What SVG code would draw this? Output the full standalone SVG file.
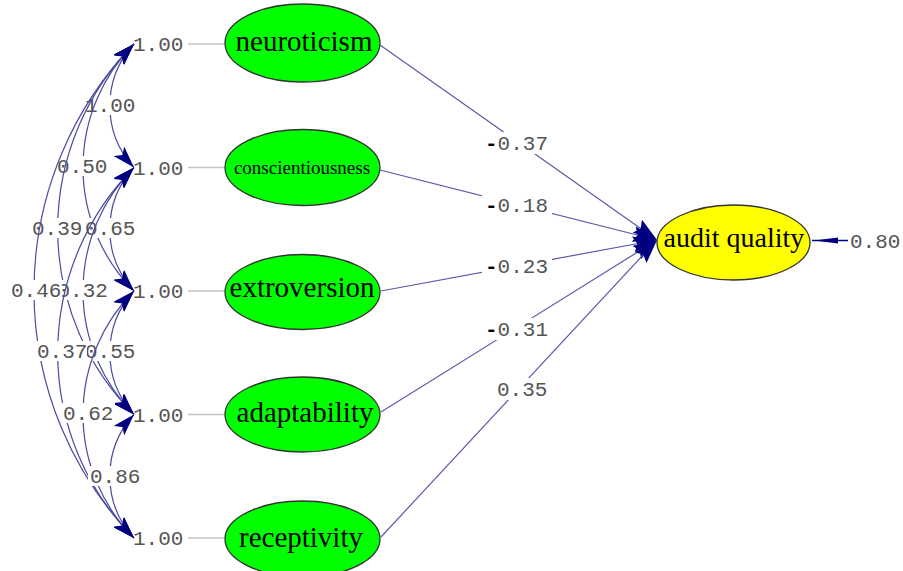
<svg xmlns="http://www.w3.org/2000/svg" width="903" height="571" viewBox="0 0 903 571">
<style>
.node{fill:#00ff00;stroke:#333;stroke-width:1.3}
.dep{fill:#ffff00;stroke:#333;stroke-width:1.3}
.nt{font-family:"Liberation Serif","Times New Roman",serif;font-size:29px;fill:#000;text-anchor:middle}
.num{font-family:"Liberation Mono","Courier New",monospace;font-size:21px;fill:#555}
.neg{fill:#000;font-weight:bold}
.stub{stroke:#c4c4c4;stroke-width:1.5}
.cov{fill:none;stroke:#4b4ba0;stroke-width:1.2;marker-start:url(#ah);marker-end:url(#ah)}
.path{fill:none;stroke:#5a5aaa;stroke-width:1.2;marker-end:url(#ahb)}
.box{fill:#fff}
</style>
<defs>
<marker id="ah" viewBox="0 0 22 14" refX="22" refY="7" markerWidth="22" markerHeight="14" markerUnits="userSpaceOnUse" orient="auto-start-reverse">
<path d="M0,0 L22,7 L0,14 L5,7 z" fill="#000080"/>
</marker>
<marker id="ahb" viewBox="0 0 24 16" refX="24" refY="8" markerWidth="24" markerHeight="16" markerUnits="userSpaceOnUse" orient="auto">
<path d="M0,0 L24,8 L0,16 L4,8 z" fill="#000080"/>
</marker>
</defs>
<rect width="903" height="571" fill="#fff"/>

<g id="neuroticism">
<line class="stub" x1="188" y1="44" x2="225" y2="44"/>
<text class="num" x="133" y="51">1.00</text>
<ellipse class="node" cx="302.5" cy="43" rx="77.5" ry="39"/>
<text class="nt" x="304" y="51">neuroticism</text>
</g>
<g id="conscientiousness">
<line class="stub" x1="188" y1="167.5" x2="225" y2="167.5"/>
<text class="num" x="133" y="174.5">1.00</text>
<ellipse class="node" cx="302.5" cy="167.5" rx="77.5" ry="38"/>
<text class="nt" x="302" y="174" style="font-size:19px">conscientiousness</text>
</g>
<g id="extroversion">
<line class="stub" x1="188" y1="291" x2="225" y2="291"/>
<text class="num" x="133" y="298">1.00</text>
<ellipse class="node" cx="302.5" cy="292" rx="77.5" ry="37.5"/>
<text class="nt" x="302" y="297">extroversion</text>
</g>
<g id="adaptability">
<line class="stub" x1="188" y1="414.5" x2="225" y2="414.5"/>
<text class="num" x="133" y="421.5">1.00</text>
<ellipse class="node" cx="302.5" cy="414.5" rx="77.5" ry="37.5"/>
<text class="nt" x="305" y="422">adaptability</text>
</g>
<g id="receptivity">
<line class="stub" x1="188" y1="538" x2="225" y2="538"/>
<text class="num" x="133" y="545">1.00</text>
<ellipse class="node" cx="302.5" cy="539" rx="77.5" ry="38"/>
<text class="nt" x="301" y="547">receptivity</text>
</g>
<g id="audit_quality">
<ellipse class="dep" cx="733.5" cy="242.5" rx="76.5" ry="37.5"/>
<text class="nt" x="734" y="247" style="font-size:28px">audit quality</text>
<line x1="812" y1="240.5" x2="848" y2="240.5" stroke="#000080" stroke-width="1.5"/>
<polygon points="814,240.5 838,237.5 838,243.5" fill="#000080"/>
<text class="num" x="850" y="248">0.80</text>
</g>

<g id="connectors">
<g id="cov_2_1">
<path class="cov" d="M134,44 A91,91 0 0 0 134,167.5"/>
<rect class="box" x="83" y="95" width="54" height="20"/>
<text class="num" x="85" y="112">1.00</text>
</g>
<g id="cov_3_1">
<path class="cov" d="M134,44 A175,175 0 0 0 134,291"/>
<rect class="box" x="55" y="156" width="54" height="20"/>
<text class="num" x="57" y="173">0.50</text>
</g>
<g id="cov_3_2">
<path class="cov" d="M134,167.5 A91,91 0 0 0 134,291"/>
<rect class="box" x="83" y="218" width="54" height="20"/>
<text class="num" x="85" y="235">0.65</text>
</g>
<g id="cov_4_1">
<path class="cov" d="M134,44 A263,263 0 0 0 134,414.5"/>
<rect class="box" x="30" y="218" width="54" height="20"/>
<text class="num" x="32" y="235">0.39</text>
</g>
<g id="cov_4_2">
<path class="cov" d="M134,167.5 A175,175 0 0 0 134,414.5"/>
<rect class="box" x="55" y="280" width="54" height="20"/>
<text class="num" x="57.5" y="297">0.32</text>
</g>
<g id="cov_4_3">
<path class="cov" d="M134,291 A91,91 0 0 0 134,414.5"/>
<rect class="box" x="83" y="341" width="54" height="20"/>
<text class="num" x="85" y="358">0.55</text>
</g>
<g id="cov_5_1">
<path class="cov" d="M134,44 A355,355 0 0 0 134,538"/>
<rect class="box" x="9" y="280" width="53" height="20"/>
<text class="num" x="11" y="297">0.46</text>
</g>
<g id="cov_5_2">
<path class="cov" d="M134,167.5 A263,263 0 0 0 134,538"/>
<rect class="box" x="35" y="341" width="52" height="20"/>
<text class="num" x="37" y="358">0.37</text>
</g>
<g id="cov_5_3">
<path class="cov" d="M134,291 A175,175 0 0 0 134,538"/>
<rect class="box" x="61" y="403" width="54" height="20"/>
<text class="num" x="63" y="420">0.62</text>
</g>
<g id="cov_5_4">
<path class="cov" d="M134,414.5 A91,91 0 0 0 134,538"/>
<rect class="box" x="88" y="466" width="54" height="20"/>
<text class="num" x="90" y="483">0.86</text>
</g>

<g id="p_neuroticism">
<path class="path" d="M380,45 L657,240"/>
<rect class="box" x="482" y="132" width="70" height="22"/>
<text class="num" x="485" y="150"><tspan class="neg">-</tspan>0.37</text>
</g>
<g id="p_conscientiousness">
<path class="path" d="M380,170 L657,240"/>
<rect class="box" x="482" y="194" width="70" height="22"/>
<text class="num" x="485" y="212"><tspan class="neg">-</tspan>0.18</text>
</g>
<g id="p_extroversion">
<path class="path" d="M381,291 L657,240"/>
<rect class="box" x="482" y="255" width="70" height="22"/>
<text class="num" x="485" y="273"><tspan class="neg">-</tspan>0.23</text>
</g>
<g id="p_adaptability">
<path class="path" d="M381,412 L657,240"/>
<rect class="box" x="482" y="318" width="70" height="22"/>
<text class="num" x="485" y="336"><tspan class="neg">-</tspan>0.31</text>
</g>
<g id="p_receptivity">
<path class="path" d="M381,537 L657,240"/>
<rect class="box" x="494" y="378" width="58" height="22"/>
<text class="num" x="497" y="396">0.35</text>
</g>
</g>
</svg>
